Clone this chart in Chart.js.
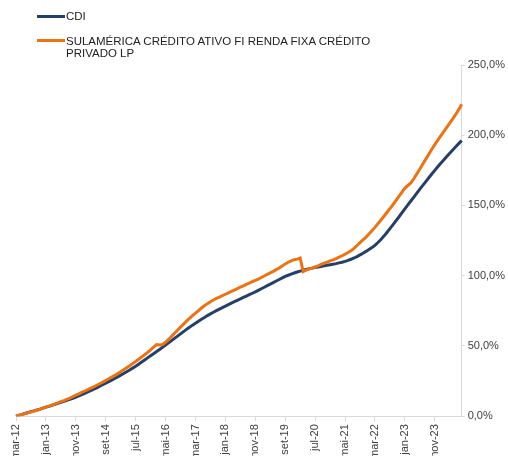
<!DOCTYPE html>
<html>
<head>
<meta charset="utf-8">
<script src="https://cdn.jsdelivr.net/npm/chart.js@4.4.1/dist/chart.umd.min.js"></script>
<style>
  html, body { margin: 0; padding: 0; background: #fff; overflow: hidden; width: 508px; height: 456px; }
  #wrap { position: relative; width: 508px; height: 462px; }
  #c { position: absolute; left: 0; top: 0; }
  .leg { position: absolute; font-family: "Liberation Sans", Arial, sans-serif; font-size: 11.5px; color: #222; line-height: 12px; }
  .sw { position: absolute; height: 3px; width: 28px; }
</style>
</head>
<body>
<div id="wrap">
  <canvas id="c" width="508" height="462"></canvas>
  <div class="sw" style="left:37px; top:15px; background:#253f66;"></div>
  <div class="leg" style="left:66px; top:10px;">CDI</div>
  <div class="sw" style="left:37px; top:39px; background:#ec7314;"></div>
  <div class="leg" style="left:66px; top:35px;">SULAMÉRICA CRÉDITO ATIVO FI RENDA FIXA CRÉDITO<br>PRIVADO LP</div>
</div>
<script>
const monthNames = ['jan','fev','mar','abr','mai','jun','jul','ago','set','out','nov','dez'];
const startMonth = 2, startYear = 12, monthCount = 150; // mar-12 .. ago-24
const categories = [];
for (let i = 0; i < monthCount; i++) {
  const m = (startMonth + i) % 12;
  const y = startYear + Math.floor((startMonth + i) / 12);
  categories.push(monthNames[m] + '-' + y);
}

const seriesNames = ['CDI', 'SULAMÉRICA CRÉDITO ATIVO FI RENDA FIXA CRÉDITO PRIVADO LP'];

const cdi = [
  0, 0.6, 1.3, 1.9, 2.6, 3.2, 3.8, 4.4, 5.0, 5.7, 6.4,
  7.0, 7.7, 8.4, 9.1, 9.8, 10.5, 11.2, 11.9, 12.7, 13.5,
  14.4, 15.3, 16.2, 17.2, 18.2, 19.2, 20.2, 21.3, 22.4, 23.5,
  24.6, 25.7, 26.8, 28.0, 29.2, 30.4, 31.6, 32.9, 34.2, 35.5,
  37.0, 38.5, 40.0, 41.5, 43.0, 44.5, 46.0, 47.5, 49.0, 50.6,
  52.2, 53.8, 55.4, 57.0, 58.6, 60.2, 61.8, 63.3, 64.8, 66.2,
  67.6, 69.0, 70.3, 71.6, 72.8, 74.0, 75.1, 76.2, 77.3, 78.3,
  79.4, 80.5, 81.5, 82.5, 83.5, 84.5, 85.5, 86.5, 87.5, 88.5,
  89.6, 90.7, 91.8, 92.9, 94.0, 95.1, 96.2, 97.3, 98.4, 99.5,
  100.3, 101.1, 101.9, 102.6, 103.3, 104.0, 104.5, 105.0, 105.4, 105.8,
  106.2, 106.6, 107.0, 107.4, 107.8, 108.2, 108.6, 109.1, 109.6, 110.2,
  110.9, 111.7, 112.6, 113.6, 114.8, 116.0, 117.3, 118.7, 120.1, 121.6,
  123.6, 125.8, 128.2, 130.8, 133.5, 136.2, 139.0, 141.8, 144.7, 147.6,
  150.4, 153.2, 156.0, 158.8, 161.6, 164.3, 167.0, 169.7, 172.4, 175.0,
  177.5, 180.0, 182.4, 184.8, 187.2, 189.5, 191.8, 194.0, 196.2
];

const fund = [
  0, 0.6, 1.2, 1.8, 2.4, 3.0, 3.6, 4.2, 4.9, 5.6, 6.4,
  7.1, 7.9, 8.7, 9.5, 10.3, 11.1, 12.0, 12.9, 13.9, 14.9,
  15.9, 16.9, 17.9, 18.9, 19.9, 20.9, 22.0, 23.1, 24.2, 25.4,
  26.6, 27.8, 29.0, 30.3, 31.6, 33.0, 34.4, 35.9, 37.4, 38.9,
  40.5, 42.1, 43.7, 45.4, 47.2, 49.2, 51.0, 50.6, 51.0, 52.6,
  54.6, 56.8, 59.0, 61.2, 63.4, 65.5, 67.6, 69.6, 71.6, 73.4,
  75.2, 77.0, 78.6, 80.1, 81.5, 82.7, 83.8, 84.8, 85.8, 86.8,
  87.8, 88.8, 89.8, 90.8, 91.8, 92.8, 93.8, 94.8, 95.7, 96.6,
  97.6, 98.7, 99.8, 100.9, 102.0, 103.1, 104.3, 105.5, 106.9, 108.4,
  109.6, 110.6, 111.4, 111.8, 112.6, 103.0, 104.0, 104.8, 105.4, 106.2,
  107.0, 108.0, 108.9, 109.7, 110.5, 111.3, 112.2, 113.2, 114.2, 115.3,
  116.5, 117.8, 119.5, 121.5, 123.5, 125.5, 127.5, 129.7, 132.0, 134.4,
  137.0, 139.6, 142.3, 145.0, 147.7, 150.5, 153.4, 156.4, 159.4, 162.4,
  164.2, 166.0, 169.0, 172.5, 176.0, 179.5, 183.0, 186.5, 190.0, 193.3,
  196.5, 199.6, 202.6, 205.6, 208.6, 211.6, 214.8, 218.2, 222.0
];

const yTicks = [0, 50, 100, 150, 200, 250];
const tickEvery = 10;

const axisColor = '#d9d9d9';
const font = { family: '"Liberation Sans", Arial, sans-serif', size: 11 };

new Chart(document.getElementById('c'), {
  type: 'line',
  data: {
    labels: categories,
    datasets: [
      { label: seriesNames[0], data: cdi, borderColor: '#253f66', borderWidth: 3, pointRadius: 0, tension: 0, order: 1 },
      { label: seriesNames[1], data: fund, borderColor: '#ec7314', borderWidth: 3, pointRadius: 0, tension: 0, order: 0 }
    ]
  },
  options: {
    responsive: false,
    animation: false,
    layout: { padding: { left: 16, top: 65, right: 0, bottom: 0 } },
    plugins: { legend: { display: false }, tooltip: { enabled: false } },
    scales: {
      x: {
        type: 'category',
        offset: false,
        afterBuildTicks: axis => { axis.ticks = axis.ticks.filter(t => t.value % tickEvery === 0); },
        grid: { display: true, drawOnChartArea: false, drawTicks: true, tickLength: 5, color: axisColor },
        border: { display: true, color: axisColor, width: 1 },
        ticks: { autoSkip: false, maxRotation: 90, minRotation: 90, padding: 3, color: '#404040', font: font }
      },
      y: {
        position: 'right',
        min: 0, max: 250,
        afterBuildTicks: axis => { axis.ticks = yTicks.map(v => ({ value: v })); },
        grid: { display: true, drawOnChartArea: false, drawTicks: true, tickLength: 3, color: axisColor },
        border: { display: true, color: axisColor, width: 1 },
        ticks: { padding: 3, color: '#404040', font: font,
          callback: v => v.toFixed(1).replace('.', ',') + '%' }
      }
    }
  }
});
</script>
</body>
</html>
